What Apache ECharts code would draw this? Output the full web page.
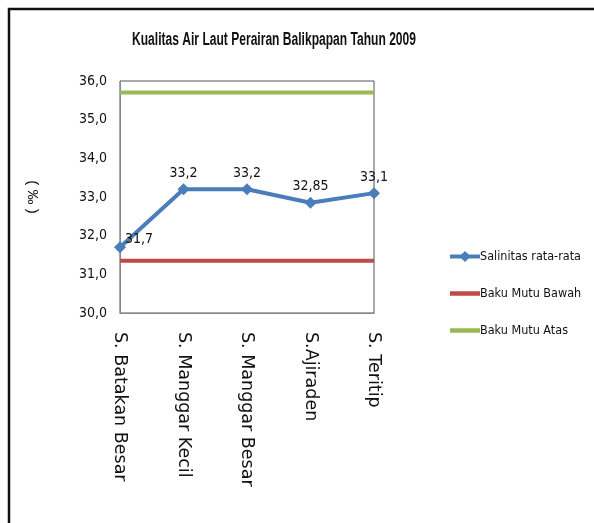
<!DOCTYPE html>
<html>
<head>
<meta charset="utf-8">
<script src="https://cdn.jsdelivr.net/npm/echarts@6/dist/echarts.min.js"></script>
<style>html,body{margin:0;padding:0;background:#fff}#c{width:594px;height:523px}</style>
</head>
<body>
<div id="c"></div>
<script>
const titleText = 'Kualitas Air Laut Perairan Balikpapan Tahun 2009';
const categories = ['S. Batakan Besar', 'S. Manggar Kecil', 'S. Manggar Besar', 'S.Ajiraden', 'S. Teritip'];
const salinitas = [31.7, 33.2, 33.2, 32.85, 33.1];
const bakuBawah = [31.35, 31.35, 31.35, 31.35, 31.35];
const bakuAtas = [35.7, 35.7, 35.7, 35.7, 35.7];

const chart = echarts.init(document.getElementById('c'), null, {renderer: 'canvas'});
const cond = '"DejaVu Sans Condensed", "Liberation Sans", sans-serif';
const barIcon = 'path://M0,0 L30,0 L30,4.5 L0,4.5 Z';
chart.setOption({
  backgroundColor: '#fff',
  animation: false,
  graphic: [{
    type: 'rect', shape: {x: 9, y: 9, width: 700, height: 700},
    style: {fill: 'none', stroke: '#111', lineWidth: 2.5}, silent: true
  }, {
    type: 'text', x: 274, y: 40, scaleX: 0.67, silent: true,
    style: {text: titleText, font: 'bold 18px "Liberation Sans", sans-serif', fill: '#111', align: 'center', verticalAlign: 'middle'}
  }],
  legend: {
    orient: 'vertical', left: 443, top: 245, itemGap: 24,
    itemWidth: 30, itemHeight: 14,
    textStyle: {fontFamily: cond, fontSize: 12.5, color: '#111', padding: [0, 0, 0, -5]},
    data: [
      {name: 'Salinitas rata-rata', lineStyle: {width: 4}},
      {name: 'Baku Mutu Bawah', icon: barIcon},
      {name: 'Baku Mutu Atas', icon: barIcon}
    ]
  },
  grid: {left: 120, right: 220, top: 81, bottom: 210, show: true, borderColor: '#555', borderWidth: 1},
  xAxis: {
    type: 'category', data: categories, boundaryGap: false,
    axisLine: {lineStyle: {color: '#888'}},
    axisTick: {show: false},
    axisLabel: {rotate: -90, margin: 19, fontFamily: '"DejaVu Sans", sans-serif', fontSize: 17.5, color: '#111', align: 'left', verticalAlign: 'middle'}
  },
  yAxis: {
    type: 'value', min: 30, max: 36, interval: 1,
    name: '( ‰ )', nameLocation: 'middle', nameRotate: -90, nameGap: 80,
    nameTextStyle: {fontFamily: '"Liberation Sans", sans-serif', fontSize: 15, color: '#111'},
    axisLine: {show: true, lineStyle: {color: '#888'}},
    axisTick: {show: false},
    splitLine: {show: false},
    axisLabel: {margin: 13, fontFamily: cond, fontSize: 14, color: '#111',
      formatter: v => v.toFixed(1).replace('.', ',')}
  },
  series: [
    {
      name: 'Salinitas rata-rata', type: 'line', z: 5,
      data: salinitas.map((v, i) => i === 0
        ? {value: v, label: {position: 'right', offset: [-4, -8]}}
        : {value: v}),
      symbol: 'diamond', symbolSize: 12,
      lineStyle: {color: '#4A7EBB', width: 4},
      itemStyle: {color: '#4A7EBB'},
      label: {show: true, position: 'top', distance: 3, fontFamily: cond, fontSize: 14, color: '#111',
        formatter: p => String(p.value).replace('.', ',')}
    },
    {
      name: 'Baku Mutu Bawah', type: 'line', data: bakuBawah, symbol: 'none',
      lineStyle: {color: '#BE4B48', width: 4}, itemStyle: {color: '#BE4B48'}
    },
    {
      name: 'Baku Mutu Atas', type: 'line', data: bakuAtas, symbol: 'none',
      lineStyle: {color: '#98B954', width: 4}, itemStyle: {color: '#98B954'}
    }
  ]
});
</script>
</body>
</html>
